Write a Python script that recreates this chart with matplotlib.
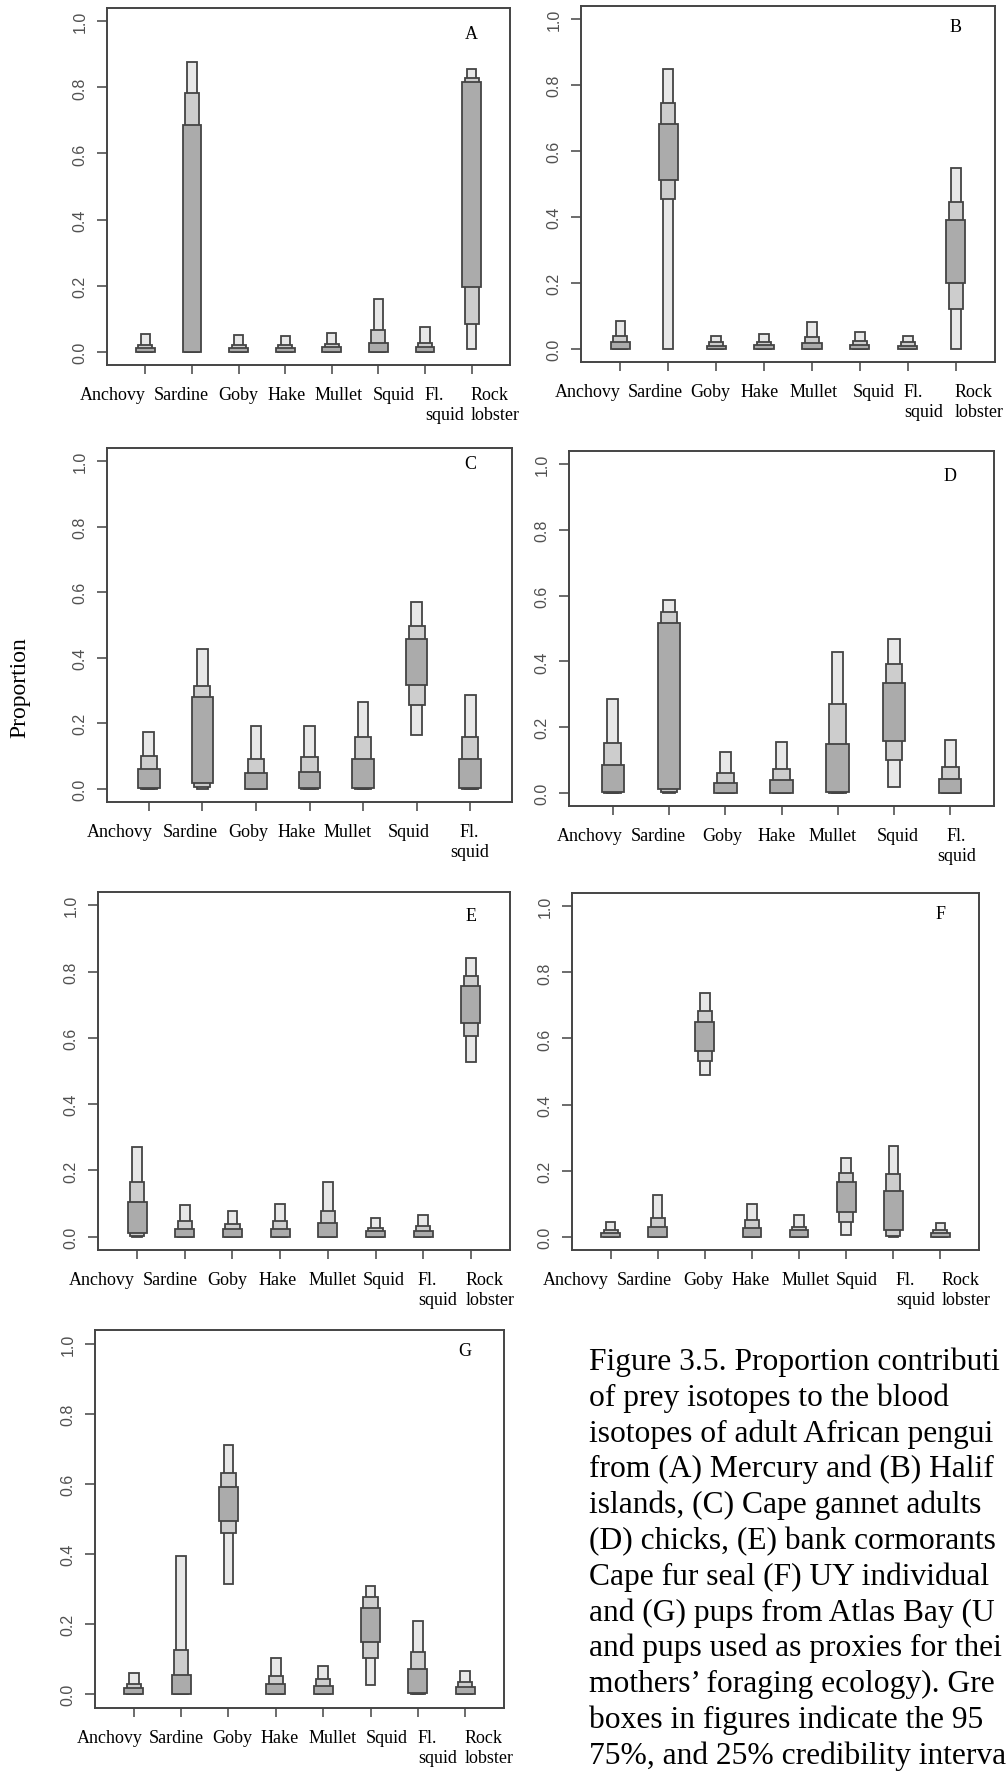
import matplotlib
matplotlib.use("Agg")
import matplotlib.pyplot as plt
import numpy as np

W, H = 1006, 1774
SERIF = "Liberation Serif"
SANS = "Liberation Sans"

light = "#e8e8e8"
mid = "#cdcdcd"
dark = "#ababab"
edge = "#444444"

prey8 = ["Anchovy", "Sardine", "Goby", "Hake", "Mullet", "Squid", "Fl.\nsquid", "Rock\nlobster"]
prey7 = prey8[:7]

# credibility intervals: 95% (light), 75% (mid), 25% (dark)
A_lo95 = [0, 0, 0, 0, 0, 0, 0, 0.008]
A_hi95 = [0.054, 0.878, 0.050, 0.048, 0.058, 0.160, 0.076, 0.856]
A_lo75 = [0, 0, 0, 0, 0, 0, 0, 0.084]
A_hi75 = [0.019, 0.783, 0.019, 0.019, 0.023, 0.066, 0.028, 0.829]
A_lo25 = [0, 0, 0, 0, 0, 0, 0, 0.196]
A_hi25 = [0.010, 0.686, 0.010, 0.010, 0.015, 0.028, 0.015, 0.816]

B_lo95 = [0, 0, 0, 0, 0, 0, 0, 0]
B_hi95 = [0.083, 0.850, 0.038, 0.045, 0.080, 0.050, 0.040, 0.550]
B_lo75 = [0, 0.456, 0, 0, 0, 0, 0, 0.122]
B_hi75 = [0.038, 0.746, 0.020, 0.022, 0.035, 0.025, 0.020, 0.446]
B_lo25 = [0, 0.512, 0, 0, 0, 0, 0, 0.200]
B_hi25 = [0.022, 0.682, 0.010, 0.012, 0.019, 0.012, 0.010, 0.391]

C_lo95 = [0, 0, 0, 0, 0, 0.164, 0]
C_hi95 = [0.173, 0.428, 0.191, 0.191, 0.264, 0.571, 0.287]
C_lo75 = [0, 0.007, 0, 0, 0, 0.257, 0]
C_hi75 = [0.099, 0.315, 0.092, 0.096, 0.157, 0.497, 0.157]
C_lo25 = [0.002, 0.017, 0, 0.002, 0.002, 0.316, 0.002]
C_hi25 = [0.060, 0.281, 0.050, 0.053, 0.092, 0.458, 0.092]

D_lo95 = [0, 0, 0, 0, 0, 0.017, 0]
D_hi95 = [0.285, 0.588, 0.124, 0.154, 0.430, 0.468, 0.160]
D_lo75 = [0, 0.002, 0, 0, 0, 0.099, 0]
D_hi75 = [0.151, 0.550, 0.061, 0.072, 0.270, 0.391, 0.079]
D_lo25 = [0.002, 0.012, 0, 0, 0.002, 0.158, 0]
D_hi25 = [0.084, 0.517, 0.031, 0.040, 0.148, 0.333, 0.043]

E_lo95 = [0, 0, 0, 0, 0, 0, 0, 0.527]
E_hi95 = [0.272, 0.096, 0.077, 0.100, 0.164, 0.057, 0.065, 0.840]
E_lo75 = [0.002, 0, 0, 0, 0, 0, 0, 0.605]
E_hi75 = [0.164, 0.047, 0.037, 0.047, 0.077, 0.027, 0.032, 0.787]
E_lo25 = [0.010, 0, 0, 0, 0, 0, 0, 0.646]
E_hi25 = [0.106, 0.024, 0.022, 0.024, 0.040, 0.016, 0.016, 0.755]

F_lo95 = [0, 0, 0.488, 0, 0, 0.006, 0, 0]
F_hi95 = [0.045, 0.126, 0.738, 0.100, 0.065, 0.239, 0.275, 0.042]
F_lo75 = [0, 0, 0.533, 0, 0, 0.045, 0.003, 0]
F_hi75 = [0.021, 0.057, 0.683, 0.052, 0.031, 0.194, 0.191, 0.019]
F_lo25 = [0, 0, 0.562, 0, 0, 0.074, 0.021, 0]
F_hi25 = [0.011, 0.031, 0.650, 0.028, 0.019, 0.165, 0.138, 0.011]

G_lo95 = [0, 0, 0.314, 0, 0, 0.027, 0, 0]
G_hi95 = [0.059, 0.395, 0.711, 0.102, 0.081, 0.308, 0.210, 0.067]
G_lo75 = [0, 0, 0.460, 0, 0, 0.103, 0, 0]
G_hi75 = [0.029, 0.127, 0.631, 0.052, 0.043, 0.276, 0.121, 0.033]
G_lo25 = [0, 0, 0.495, 0, 0, 0.148, 0.003, 0]
G_hi25 = [0.016, 0.054, 0.592, 0.030, 0.023, 0.246, 0.071, 0.020]

# caption as far as it is visible in the page crop
caption = [
    "Figure 3.5. Proportion contributi",
    "of prey isotopes to the blood",
    "isotopes of adult African pengui",
    "from (A) Mercury and (B) Halif",
    "islands, (C) Cape gannet adults",
    "(D) chicks, (E) bank cormorants",
    "Cape fur seal (F) UY individual",
    "and (G) pups from Atlas Bay (U",
    "and pups used as proxies for thei",
    "mothers\u2019 foraging ecology). Gre",
    "boxes in figures indicate the 95",
    "75%, and 25% credibility interva",
]

# panel: name, labels, data, box (l, t, r, b) px, label left edges px, letter y, label alignment
panels = [
    ("A", prey8, (A_lo95, A_hi95, A_lo75, A_hi75, A_lo25, A_hi25), (107, 9, 510, 366),
     [80, 154, 218, 268, 315, 373, 425, 471], 0.963, "left"),
    ("B", prey8, (B_lo95, B_hi95, B_lo75, B_hi75, B_lo25, B_hi25), (581, 7, 995, 363),
     [555, 628, 690, 741, 790, 853, 904, 955], 0.978, "left"),
    ("C", prey7, (C_lo95, C_hi95, C_lo75, C_hi75, C_lo25, C_hi25), (107, 449, 512, 803),
     [87, 163, 228, 278, 324, 388, 450], 0.994, "center"),
    ("D", prey7, (D_lo95, D_hi95, D_lo75, D_hi75, D_lo25, D_hi25), (569, 452, 994, 807),
     [557, 631, 702, 758, 809, 877, 937], 0.966, "center"),
    ("E", prey8, (E_lo95, E_hi95, E_lo75, E_hi75, E_lo25, E_hi25), (98, 893, 510, 1251),
     [69, 143, 207, 259, 309, 363, 418, 466], 0.970, "left"),
    ("F", prey8, (F_lo95, F_hi95, F_lo75, F_hi75, F_lo25, F_hi25), (572, 894, 979, 1251),
     [543, 617, 683, 732, 782, 836, 896, 942], 0.979, "left"),
    ("G", prey8, (G_lo95, G_hi95, G_lo75, G_hi75, G_lo25, G_hi25), (95, 1331, 504, 1709),
     [77, 149, 212, 261, 309, 366, 418, 465], 0.980, "left"),
]

fig = plt.figure(figsize=(W / 100, H / 100), dpi=100)

for name, labels, d, (l, t, r, b), lab_x, let_y, malign in panels:
    ax = fig.add_axes([l / W, 1 - b / H, (r - l) / W, (b - t) / H])
    n = len(labels)
    x = np.arange(1, n + 1)
    lo95, hi95, lo75, hi75, lo25, hi25 = [np.array(v) for v in d]
    kw = dict(edgecolor=edge, linewidth=1.3, align="center", zorder=2)
    ax.bar(x, hi95 - lo95, bottom=lo95, width=0.2, color=light, **kw)
    ax.bar(x, hi75 - lo75, bottom=lo75, width=0.3, color=mid, **kw)
    ax.bar(x, hi25 - lo25, bottom=lo25, width=0.4, color=dark, **kw)

    ax.set_xlim(0.5 - 0.04 * n, n + 0.5 + 0.04 * n)
    ax.set_ylim(-0.04, 1.04)
    ax.set_xticks(x)
    ax.set_xticklabels([])
    ax.set_yticks(np.arange(0, 1.01, 0.2))
    ax.set_yticklabels(["%.1f" % v for v in np.arange(0, 1.01, 0.2)],
                       rotation=90, va="center", family=SANS, fontsize=11.5, color="#505050")
    ax.tick_params(axis="y", length=7.2, width=1.1, color=edge, pad=7)
    ax.tick_params(axis="x", length=6.5, width=1.1, color=edge)
    for s in ax.spines.values():
        s.set_color(edge)
        s.set_linewidth(1.4)

    ax.text(n, let_y, name, ha="center", va="center", family=SERIF, fontsize=13)

    for lab, lx in zip(labels, lab_x):
        fig.text(lx / W, 1 - (b + 21) / H, lab, ha="left", va="top",
                 multialignment=malign, family=SERIF, fontsize=13)

fig.text(20 / W, 1 - 688 / H, "Proportion", rotation=90, ha="center", va="center",
         family=SERIF, fontsize=17)

for i, line in enumerate(caption):
    fig.text(589 / W, 1 - (1370 + i * 35.8) / H, line, ha="left", va="baseline",
             family=SERIF, fontsize=22.7)

fig.savefig("out.png", dpi=100)
